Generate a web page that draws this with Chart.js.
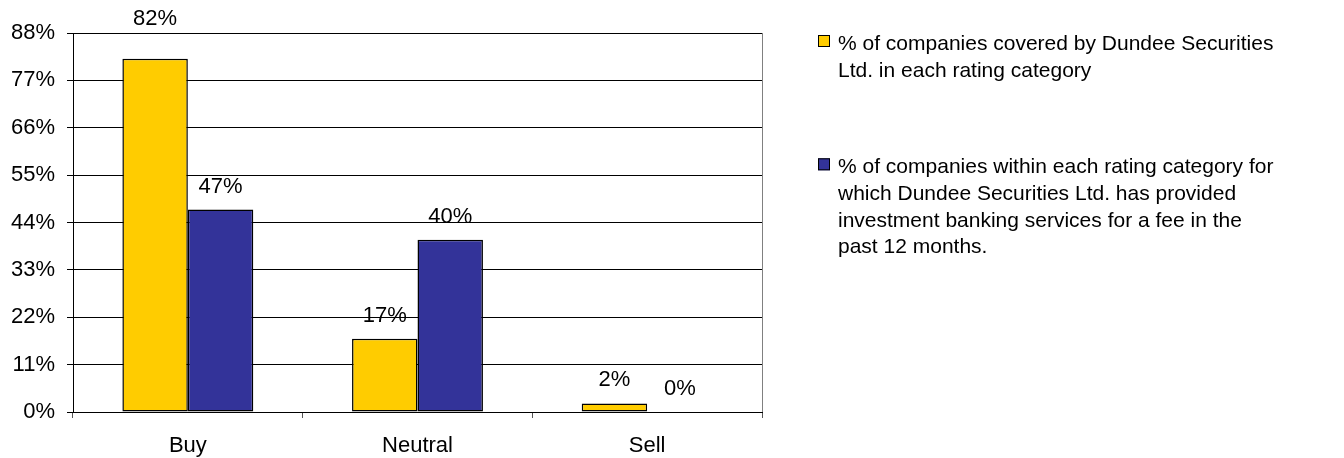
<!DOCTYPE html>
<html>
<head>
<meta charset="utf-8">
<script src="https://cdn.jsdelivr.net/npm/chart.js@4.4.1/dist/chart.umd.min.js"></script>
<style>
    html, body { margin: 0; padding: 0; background: #fff; }
</style>
</head>
<body>
<canvas id="ratings" width="1344" height="458"></canvas>
<script>
const categories = ['Buy', 'Neutral', 'Sell'];
const coveredPct = [82, 17, 2];
const bankingPct = [47, 40, 0];
const yTicks = [0, 11, 22, 33, 44, 55, 66, 77, 88];
const coveredLines = ['% of companies covered by Dundee Securities', 'Ltd. in each rating category'];
const bankingLines = ['% of companies within each rating category for', 'which Dundee Securities Ltd. has provided',
    'investment banking services for a fee in the', 'past 12 months.'];

const FONT = 'Liberation Sans, Arial, sans-serif';

// value labels above each bar
const barLabels = {
    id: 'barLabels',
    afterDatasetsDraw(chart) {
        const ctx = chart.ctx;
        const area = chart.chartArea;
        ctx.save();
        ctx.font = '22px ' + FONT;
        ctx.fillStyle = '#000';
        ctx.textAlign = 'center';
        ctx.textBaseline = 'middle';
        chart.data.datasets.forEach((ds, i) => {
            chart.getDatasetMeta(i).data.forEach((bar, j) => {
                let y = bar.y - 23;
                if (bar.y - area.top < 30) y = area.top - 14;
                ctx.fillText(ds.data[j] + '%', bar.x, y);
            });
        });
        ctx.restore();
    }
};

// gray frame line on the right of the plot + legend on the right side
const sideLegend = {
    id: 'sideLegend',
    afterDraw(chart) {
        const ctx = chart.ctx;
        const area = chart.chartArea;
        ctx.save();
        ctx.strokeStyle = '#808080';
        ctx.lineWidth = 1;
        ctx.beginPath();
        ctx.moveTo(area.right + 0.5, area.top);
        ctx.lineTo(area.right + 0.5, area.bottom);
        ctx.stroke();

        const boxX = area.right + 56;
        const textX = area.right + 76;
        const lineH = 26.7;
        const groups = [
            { lines: coveredLines, top: area.top + 2 },
            { lines: bankingLines, top: area.top + 125.3 }
        ];
        ctx.font = '21px ' + FONT;
        ctx.textAlign = 'left';
        ctx.textBaseline = 'alphabetic';
        groups.forEach((g, i) => {
            const ds = chart.data.datasets[i];
            ctx.fillStyle = ds.backgroundColor;
            ctx.fillRect(boxX, g.top, 12, 12);
            ctx.strokeStyle = '#000';
            ctx.strokeRect(boxX + 0.5, g.top + 0.5, 11, 11);
            ctx.fillStyle = '#000';
            g.lines.forEach((t, k) => {
                ctx.fillText(t, textX, g.top + 15 + k * lineH);
            });
        });
        ctx.restore();
    }
};

new Chart(document.getElementById('ratings'), {
    type: 'bar',
    data: {
        labels: categories,
        datasets: [{
            label: coveredLines.join(' '),
            data: coveredPct,
            backgroundColor: '#FFCC00',
            borderColor: '#000',
            borderWidth: 1.5,
            borderSkipped: false,
            categoryPercentage: 0.57,
            barPercentage: 1
        }, {
            label: bankingLines.join(' '),
            data: bankingPct,
            backgroundColor: '#333399',
            borderColor: '#000',
            borderWidth: 1.5,
            borderSkipped: false,
            categoryPercentage: 0.57,
            barPercentage: 1
        }]
    },
    options: {
        responsive: false,
        animation: false,
        devicePixelRatio: 1,
        layout: {
            padding: { top: 33, right: 582, bottom: 0, left: 0 }
        },
        plugins: {
            legend: { display: false },
            tooltip: { enabled: false }
        },
        scales: {
            x: {
                offset: true,
                grid: {
                    offset: true,
                    drawOnChartArea: false,
                    tickLength: 6,
                    color: '#555'
                },
                border: { color: '#000' },
                ticks: {
                    color: '#000',
                    padding: 15,
                    font: { family: FONT, size: 22 }
                },
                afterFit(scale) { scale.height = 46; }
            },
            y: {
                min: 0,
                max: 88,
                afterBuildTicks(scale) {
                    scale.ticks = yTicks.map(v => ({ value: v }));
                },
                grid: {
                    color: '#000',
                    tickLength: 6
                },
                border: { color: '#000' },
                ticks: {
                    color: '#000',
                    padding: 12,
                    font: { family: FONT, size: 22 },
                    callback: v => v + '%'
                },
                afterFit(scale) { scale.width = 73; }
            }
        }
    },
    plugins: [barLabels, sideLegend]
});
</script>
</body>
</html>
